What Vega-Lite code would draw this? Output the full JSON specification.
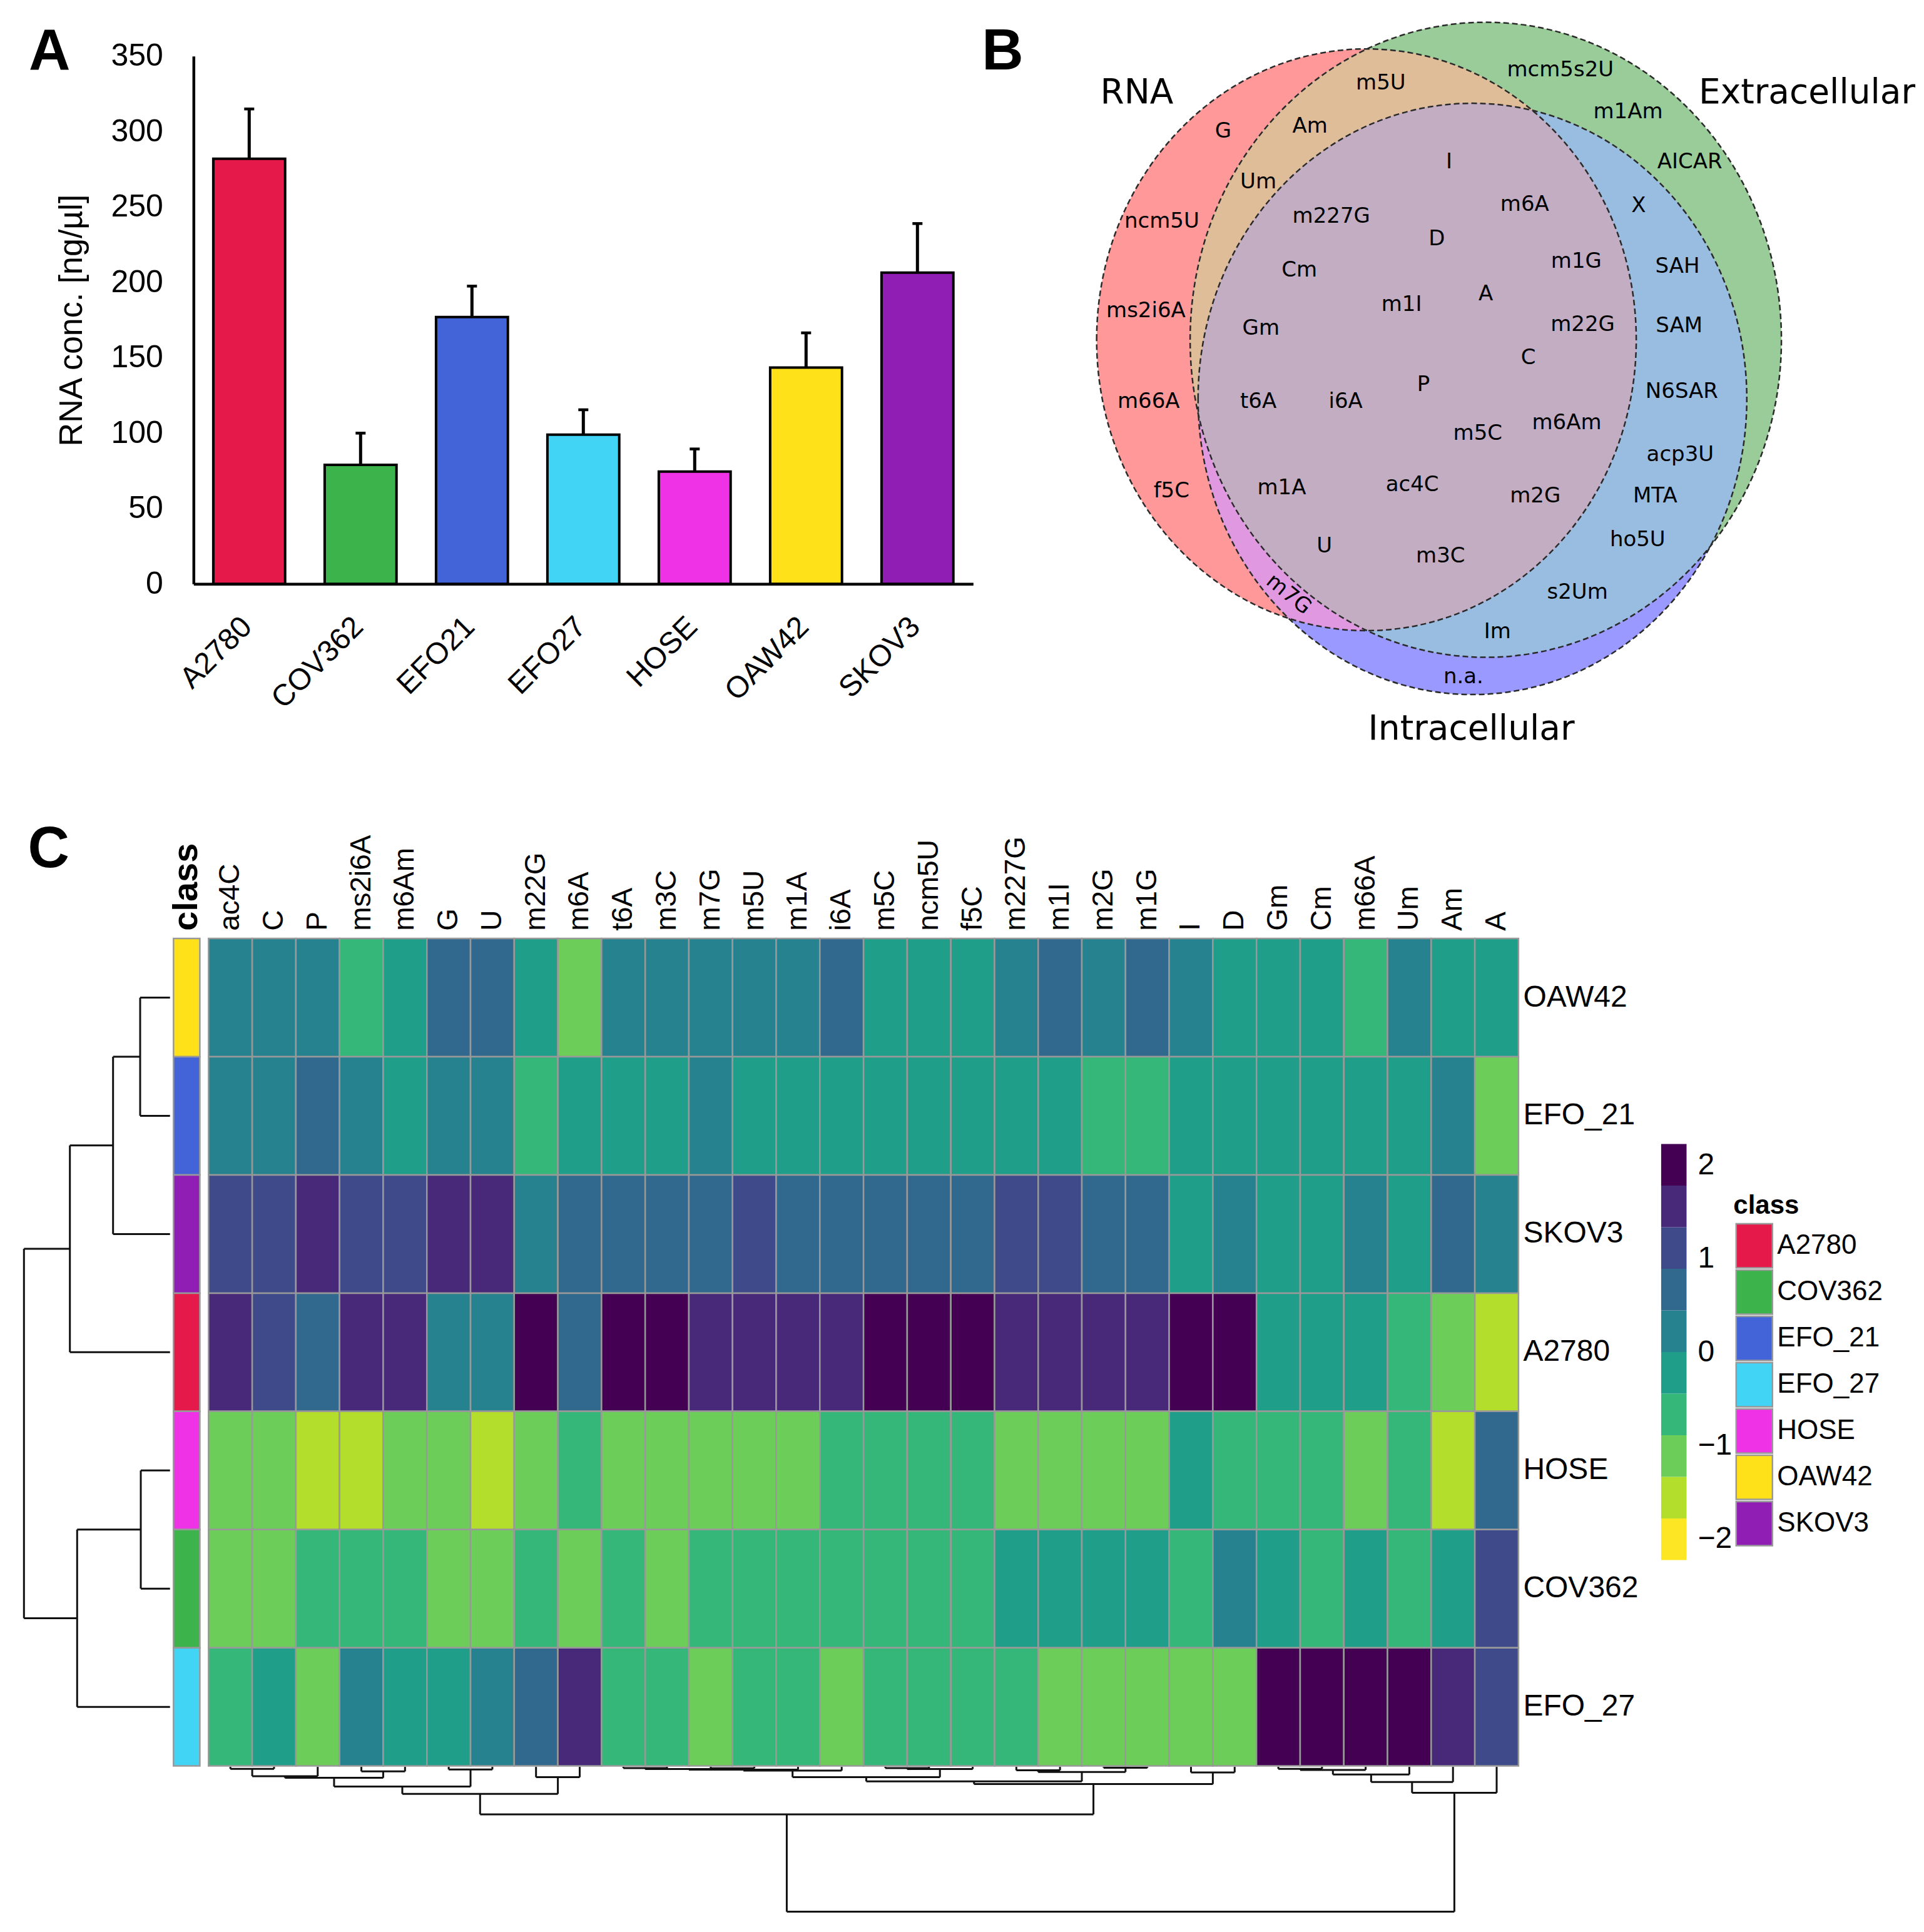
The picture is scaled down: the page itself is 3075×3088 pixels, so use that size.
{
  "$schema": "https://vega.github.io/schema/vega-lite/v6.json",
  "background": "white",
  "padding": {"left": 35.3, "top": 29.8, "right": 0, "bottom": 0},
  "autosize": {"type": "pad"},
  "bounds": "full",
  "spacing": 57.3,
  "config": {
    "view": {"stroke": null},
    "font": "Liberation Sans",
    "axis": {"grid": false, "labelColor": "black", "titleColor": "black", "domainColor": "black", "labelLimit": 1000},
    "legend": {"labelLimit": 1000},
    "title": {"color": "black"},
    "text": {"color": "black"}
  },
  "vconcat": [
    {
      "hconcat": [
        {
          "width": 128.7,
          "height": 843.5,
          "data": {"values": []},
          "mark": "point",
          "title": {"text": "A", "anchor": "start", "frame": "group", "orient": "top", "offset": 0, "dx": 10.7, "dy": 39.8, "baseline": "top", "fontSize": 92, "fontWeight": "bold", "font": "Liberation Sans", "color": "black"}
        },
        {
          "width": 1246,
          "height": 843.5,
          "data": {"values": [
            {"line": "A2780", "conc": 282, "upper": 315},
            {"line": "COV362", "conc": 79, "upper": 100},
            {"line": "EFO21", "conc": 177, "upper": 197.5},
            {"line": "EFO27", "conc": 99, "upper": 115.5},
            {"line": "HOSE", "conc": 74.5, "upper": 89.5},
            {"line": "OAW42", "conc": 143.5, "upper": 166.5},
            {"line": "SKOV3", "conc": 206.5, "upper": 239}
          ]},
          "layer": [
            {
              "mark": {"type": "bar", "stroke": "black", "strokeWidth": 4},
              "encoding": {
                "x": {"field": "line", "type": "nominal", "sort": null,
                  "scale": {"paddingInner": 0.355, "paddingOuter": 0.1775},
                  "axis": {"title": null, "domainWidth": 4.5, "domainColor": "black", "ticks": false, "tickSize": 0, "labelAngle": -45, "labelAlign": "right", "labelBaseline": "middle", "labelPadding": 61, "labelOffset": -3, "labelFontSize": 48, "labelFont": "Liberation Sans"}},
                "y": {"field": "conc", "type": "quantitative",
                  "scale": {"domain": [0, 350], "nice": false},
                  "axis": {"title": "RNA conc. [ng/µl]", "titleFontSize": 52, "titleFontWeight": "normal", "titleFont": "Liberation Sans", "titlePadding": 35, "values": [0, 50, 100, 150, 200, 250, 300, 350], "domainWidth": 4.5, "domainColor": "black", "ticks": false, "tickSize": 0, "labelPadding": 49, "labelFontSize": 50, "labelFont": "Liberation Sans"}},
                "color": {"field": "line", "type": "nominal",
                  "scale": {"domain": ["A2780", "COV362", "EFO21", "EFO27", "HOSE", "OAW42", "SKOV3"], "range": ["#e6194b", "#3cb44b", "#4363d8", "#42d4f4", "#f032e6", "#ffe119", "#911eb4"]},
                  "legend": null}
              }
            },
            {
              "mark": {"type": "rule", "color": "black", "strokeWidth": 5},
              "encoding": {
                "x": {"field": "line", "type": "nominal", "sort": null},
                "y": {"field": "conc", "type": "quantitative"},
                "y2": {"field": "upper"}
              }
            },
            {
              "mark": {"type": "tick", "orient": "horizontal", "color": "black", "size": 16, "thickness": 4.5, "opacity": 1},
              "encoding": {
                "x": {"field": "line", "type": "nominal", "sort": null},
                "y": {"field": "upper", "type": "quantitative"}
              }
            }
          ]
        },
        {
          "width": 1375,
          "height": 1163.5,
          "encoding": {
            "x": {"field": "vx", "type": "quantitative", "scale": {"domain": [1700, 3075], "nice": false, "zero": false}, "axis": null},
            "y": {"field": "vy", "type": "quantitative", "scale": {"domain": [86.5, 1250], "reverse": true, "nice": false, "zero": false}, "axis": null}
          },
          "layer": [
            {"data": {"values": [{"vx": 2300, "vy": 600}]},
             "mark": {"type": "point", "shape": "M-547.6,-60.2A431.2,464.9,0,1,1,314.8,-60.2A431.2,464.9,0,1,1,-547.6,-60.2Z", "size": 4, "filled": true, "color": "#FF9999", "opacity": 1, "strokeWidth": 0}},
            {"data": {"values": [{"vx": 2300, "vy": 600}]},
             "mark": {"type": "point", "shape": "M-398.2,-60.2A472.5,507.5,0,1,1,546.8,-60.2A472.5,507.5,0,1,1,-398.2,-60.2Z", "size": 4, "filled": true, "color": "#99CC99", "opacity": 1, "strokeWidth": 0}},
            {"data": {"values": [{"vx": 2300, "vy": 600}]},
             "mark": {"type": "point", "shape": "M-385.5,34.3A438.5,472.5,0,1,1,491.5,34.3A438.5,472.5,0,1,1,-385.5,34.3Z", "size": 4, "filled": true, "color": "#9999FF", "opacity": 1, "strokeWidth": 0}},
            {"data": {"values": [{"vx": 2300, "vy": 600}]},
             "mark": {"type": "point", "shape": "M-115.2,-525.1A431.2,464.9,0,0,1,-115.2,404.7A472.5,507.5,0,0,1,-115.2,-525.1Z", "size": 4, "filled": true, "color": "#E0BD99", "opacity": 1, "strokeWidth": 0}},
            {"data": {"values": [{"vx": 2300, "vy": 600}]},
             "mark": {"type": "point", "shape": "M-384.9,59.8A438.5,472.5,0,1,1,432.9,270.3A472.5,507.5,0,0,1,-384.9,59.8Z", "size": 4, "filled": true, "color": "#99BDE0", "opacity": 1, "strokeWidth": 0}},
            {"data": {"values": [{"vx": 2300, "vy": 600}]},
             "mark": {"type": "point", "shape": "M148.7,-426.8A431.2,464.9,0,0,1,-240.9,384.9A438.5,472.5,0,0,1,148.7,-426.8Z", "size": 4, "filled": true, "color": "#E099E0", "opacity": 1, "strokeWidth": 0}},
            {"data": {"values": [{"vx": 2300, "vy": 600}]},
             "mark": {"type": "point", "shape": "M148.7,-426.8A431.2,464.9,0,0,1,-115.2,404.7A472.5,507.5,0,0,1,-384.9,59.8A438.5,472.5,0,0,1,148.7,-426.8Z", "size": 4, "filled": true, "color": "#C2ADC2", "opacity": 1, "strokeWidth": 0}},
            {"data": {"values": [{"vx": 2300, "vy": 600}]},
             "mark": {"type": "point", "shape": "M-547.6,-60.2A431.2,464.9,0,1,1,314.8,-60.2A431.2,464.9,0,1,1,-547.6,-60.2Z", "size": 4, "filled": false, "color": "#2a2a2a", "opacity": 1, "strokeWidth": 2.5, "strokeDash": [9, 5]}},
            {"data": {"values": [{"vx": 2300, "vy": 600}]},
             "mark": {"type": "point", "shape": "M-398.2,-60.2A472.5,507.5,0,1,1,546.8,-60.2A472.5,507.5,0,1,1,-398.2,-60.2Z", "size": 4, "filled": false, "color": "#2a2a2a", "opacity": 1, "strokeWidth": 2.5, "strokeDash": [9, 5]}},
            {"data": {"values": [{"vx": 2300, "vy": 600}]},
             "mark": {"type": "point", "shape": "M-385.5,34.3A438.5,472.5,0,1,1,491.5,34.3A438.5,472.5,0,1,1,-385.5,34.3Z", "size": 4, "filled": false, "color": "#2a2a2a", "opacity": 1, "strokeWidth": 2.5, "strokeDash": [9, 5]}},
            {"data": {"values": [
              {"t": "RNA", "vx": 1816.6, "vy": 144.7},
              {"t": "Extracellular", "vx": 2887.7, "vy": 144.7},
              {"t": "Intracellular", "vx": 2351.3, "vy": 1162.2}
             ]},
             "mark": {"type": "text", "font": "DejaVu Sans", "fontSize": 55, "align": "center", "baseline": "middle", "color": "black"},
             "encoding": {"text": {"field": "t"}}},
            {"data": {"values": [
              {"t": "G", "vx": 1954.6, "vy": 206.9},
              {"t": "m5U", "vx": 2206.6, "vy": 129.4},
              {"t": "mcm5s2U", "vx": 2493.5, "vy": 109},
              {"t": "Am", "vx": 2093.3, "vy": 198.4},
              {"t": "m1Am", "vx": 2601.7, "vy": 176.2},
              {"t": "Um", "vx": 2010.8, "vy": 287.8},
              {"t": "AICAR", "vx": 2700.4, "vy": 255.4},
              {"t": "I", "vx": 2315.6, "vy": 255.4},
              {"t": "ncm5U", "vx": 1856.6, "vy": 350.8},
              {"t": "m227G", "vx": 2127.4, "vy": 343.1},
              {"t": "m6A", "vx": 2436.5, "vy": 323.5},
              {"t": "X", "vx": 2618.7, "vy": 326.1},
              {"t": "D", "vx": 2296, "vy": 378.9},
              {"t": "Cm", "vx": 2076.3, "vy": 428.3},
              {"t": "m1G", "vx": 2519.1, "vy": 414.6},
              {"t": "SAH", "vx": 2680.8, "vy": 423.2},
              {"t": "A", "vx": 2374.3, "vy": 466.6},
              {"t": "m1I", "vx": 2239.8, "vy": 483.6},
              {"t": "ms2i6A", "vx": 1831.1, "vy": 493.8},
              {"t": "Gm", "vx": 2015, "vy": 521.9},
              {"t": "m22G", "vx": 2529.3, "vy": 516},
              {"t": "SAM", "vx": 2683.4, "vy": 517.7},
              {"t": "C", "vx": 2442.4, "vy": 568.8},
              {"t": "P", "vx": 2274.7, "vy": 611.3},
              {"t": "t6A", "vx": 2010.8, "vy": 638.6},
              {"t": "i6A", "vx": 2150.4, "vy": 638.6},
              {"t": "m66A", "vx": 1835.4, "vy": 638.6},
              {"t": "N6SAR", "vx": 2687.6, "vy": 623.2},
              {"t": "m6Am", "vx": 2503.7, "vy": 672.6},
              {"t": "m5C", "vx": 2361.5, "vy": 689.7},
              {"t": "acp3U", "vx": 2685.1, "vy": 723.7},
              {"t": "f5C", "vx": 1872, "vy": 781.6},
              {"t": "m1A", "vx": 2048.2, "vy": 776.5},
              {"t": "ac4C", "vx": 2256.8, "vy": 772.2},
              {"t": "m2G", "vx": 2453.5, "vy": 790.1},
              {"t": "MTA", "vx": 2645.1, "vy": 790.1},
              {"t": "ho5U", "vx": 2617, "vy": 860},
              {"t": "U", "vx": 2116.3, "vy": 870.2},
              {"t": "m3C", "vx": 2302, "vy": 885.5},
              {"t": "s2Um", "vx": 2520.8, "vy": 943.4},
              {"t": "Im", "vx": 2393.1, "vy": 1006.4},
              {"t": "n.a.", "vx": 2338.6, "vy": 1078.8}
             ]},
             "mark": {"type": "text", "font": "DejaVu Sans", "fontSize": 34, "align": "center", "baseline": "middle", "color": "black"},
             "encoding": {"text": {"field": "t"}}},
            {"data": {"values": [{"t": "m7G", "vx": 2059.3, "vy": 946.8}]},
             "mark": {"type": "text", "font": "DejaVu Sans", "fontSize": 34, "align": "center", "baseline": "middle", "angle": 39, "color": "black"},
             "encoding": {"text": {"field": "t"}}},
            {"data": {"values": [{"t": "B", "vx": 1569, "vy": 34.3}]},
             "mark": {"type": "text", "font": "Liberation Sans", "fontSize": 92, "fontWeight": "bold", "align": "left", "baseline": "top", "color": "black"},
             "encoding": {"text": {"field": "t"}}}
          ]
        }
      ],
      "spacing": 145,
      "bounds": "flush"
    },
    {
      "hconcat": [
        {
          "width": 241.5,
          "height": 1322.5,
          "title": {"text": "C", "anchor": "start", "frame": "group", "orient": "top", "offset": 0, "dx": 9.1, "dy": -95.2, "baseline": "top", "fontSize": 92, "fontWeight": "bold", "font": "Liberation Sans", "color": "black"},
          "data": {"values": [
            {"node": "a", "yl": 0.5, "yr": 1.5, "hl": 0, "hr": 0, "h": 0.477},
            {"node": "b", "yl": 1.0, "yr": 2.5, "hl": 0.477, "hr": 0, "h": 0.91},
            {"node": "c", "yl": 1.75, "yr": 3.5, "hl": 0.91, "hr": 0, "h": 1.6},
            {"node": "d", "yl": 4.5, "yr": 5.5, "hl": 0, "hr": 0, "h": 0.467},
            {"node": "e", "yl": 5.0, "yr": 6.5, "hl": 0.467, "hr": 0, "h": 1.484},
            {"node": "root", "yl": 2.625, "yr": 5.75, "hl": 1.6, "hr": 1.484, "h": 2.334}
          ]},
          "layer": [
            {"mark": {"type": "rule", "color": "#111111", "strokeWidth": 3},
             "encoding": {
               "x": {"field": "hl", "type": "quantitative", "scale": {"domain": [-0.051, 2.364], "reverse": true, "nice": false, "zero": false}, "axis": null},
               "x2": {"field": "h"},
               "y": {"field": "yl", "type": "quantitative", "scale": {"domain": [0, 7], "reverse": true, "nice": false, "zero": false}, "axis": null}
             }},
            {"mark": {"type": "rule", "color": "#111111", "strokeWidth": 3},
             "encoding": {
               "x": {"field": "hr", "type": "quantitative"},
               "x2": {"field": "h"},
               "y": {"field": "yr", "type": "quantitative"}
             }},
            {"mark": {"type": "rule", "color": "#111111", "strokeWidth": 3},
             "encoding": {
               "x": {"field": "h", "type": "quantitative"},
               "y": {"field": "yl", "type": "quantitative"},
               "y2": {"field": "yr"}
             }}
          ]
        },
        {
          "width": 55.9,
          "height": 1322.5,
          "data": {"values": [
            {"cell": "OAW42", "class": "OAW42", "k": "class"},
            {"cell": "EFO_21", "class": "EFO_21", "k": "class"},
            {"cell": "SKOV3", "class": "SKOV3", "k": "class"},
            {"cell": "A2780", "class": "A2780", "k": "class"},
            {"cell": "HOSE", "class": "HOSE", "k": "class"},
            {"cell": "COV362", "class": "COV362", "k": "class"},
            {"cell": "EFO_27", "class": "EFO_27", "k": "class"}
          ]},
          "mark": {"type": "rect", "stroke": "#999999", "strokeWidth": 2.5},
          "encoding": {
            "x": {"field": "k", "type": "nominal", "scale": {"paddingInner": 0, "paddingOuter": 0.163895, "align": 0},
              "axis": {"orient": "top", "title": null, "labelAngle": -90, "labelAlign": "left", "labelBaseline": "middle", "labelPadding": 12.8, "labelFontSize": 56, "labelFontWeight": "bold", "labelFont": "Liberation Sans", "domain": false, "ticks": false, "tickSize": 0}},
            "y": {"field": "cell", "type": "nominal", "sort": ["OAW42", "EFO_21", "SKOV3", "A2780", "HOSE", "COV362", "EFO_27"], "scale": {"paddingInner": 0, "paddingOuter": 0}, "axis": null},
            "fill": {"field": "class", "type": "nominal",
              "scale": {"domain": ["A2780", "COV362", "EFO_21", "EFO_27", "HOSE", "OAW42", "SKOV3"], "range": ["#e6194b", "#3cb44b", "#4363d8", "#42d4f4", "#f032e6", "#ffe119", "#911eb4"]},
              "legend": {"orient": "none", "legendX": 2735, "legendY": 1817, "direction": "vertical", "title": "class", "titleFontSize": 42, "titleFontWeight": "bold", "titleFont": "Liberation Sans", "titleColor": "black", "titleBaseline": "top", "titlePadding": 8.9, "labelFontSize": 44, "labelFont": "Liberation Sans", "labelColor": "black", "labelOffset": 3, "labelLimit": 1000, "symbolType": "M-0.906,-1.1H0.906V1.1H-0.906Z", "symbolSize": 4096, "symbolStrokeColor": "#999999", "symbolStrokeWidth": 2.5, "symbolOpacity": 1, "rowPadding": -11.5, "padding": 0}}
          }
        },
        {
          "width": 2093.6,
          "height": 1555.5,
          "resolve": {"scale": {"x": "independent", "y": "independent"}, "axis": {"x": "independent", "y": "independent"}},
          "layer": [
            {
              "data": {"values": [
                {"cell":"OAW42","mod":"ac4C","z":0.2},{"cell":"OAW42","mod":"C","z":0.2},{"cell":"OAW42","mod":"P","z":0.2},{"cell":"OAW42","mod":"ms2i6A","z":-0.65},{"cell":"OAW42","mod":"m6Am","z":-0.2},{"cell":"OAW42","mod":"G","z":0.65},{"cell":"OAW42","mod":"U","z":0.65},{"cell":"OAW42","mod":"m22G","z":-0.2},{"cell":"OAW42","mod":"m6A","z":-1.1},{"cell":"OAW42","mod":"t6A","z":0.2},{"cell":"OAW42","mod":"m3C","z":0.2},{"cell":"OAW42","mod":"m7G","z":0.2},{"cell":"OAW42","mod":"m5U","z":0.2},{"cell":"OAW42","mod":"m1A","z":0.2},{"cell":"OAW42","mod":"i6A","z":0.65},{"cell":"OAW42","mod":"m5C","z":-0.2},{"cell":"OAW42","mod":"ncm5U","z":-0.2},{"cell":"OAW42","mod":"f5C","z":-0.2},{"cell":"OAW42","mod":"m227G","z":0.2},{"cell":"OAW42","mod":"m1I","z":0.65},{"cell":"OAW42","mod":"m2G","z":0.2},{"cell":"OAW42","mod":"m1G","z":0.65},{"cell":"OAW42","mod":"I","z":0.2},{"cell":"OAW42","mod":"D","z":-0.2},{"cell":"OAW42","mod":"Gm","z":-0.2},{"cell":"OAW42","mod":"Cm","z":-0.2},{"cell":"OAW42","mod":"m66A","z":-0.65},{"cell":"OAW42","mod":"Um","z":0.2},{"cell":"OAW42","mod":"Am","z":-0.2},{"cell":"OAW42","mod":"A","z":-0.2},
                {"cell":"EFO_21","mod":"ac4C","z":0.2},{"cell":"EFO_21","mod":"C","z":0.2},{"cell":"EFO_21","mod":"P","z":0.65},{"cell":"EFO_21","mod":"ms2i6A","z":0.2},{"cell":"EFO_21","mod":"m6Am","z":-0.2},{"cell":"EFO_21","mod":"G","z":0.2},{"cell":"EFO_21","mod":"U","z":0.2},{"cell":"EFO_21","mod":"m22G","z":-0.65},{"cell":"EFO_21","mod":"m6A","z":-0.2},{"cell":"EFO_21","mod":"t6A","z":-0.2},{"cell":"EFO_21","mod":"m3C","z":-0.2},{"cell":"EFO_21","mod":"m7G","z":0.2},{"cell":"EFO_21","mod":"m5U","z":-0.2},{"cell":"EFO_21","mod":"m1A","z":-0.2},{"cell":"EFO_21","mod":"i6A","z":-0.2},{"cell":"EFO_21","mod":"m5C","z":-0.2},{"cell":"EFO_21","mod":"ncm5U","z":-0.2},{"cell":"EFO_21","mod":"f5C","z":-0.2},{"cell":"EFO_21","mod":"m227G","z":-0.2},{"cell":"EFO_21","mod":"m1I","z":-0.2},{"cell":"EFO_21","mod":"m2G","z":-0.65},{"cell":"EFO_21","mod":"m1G","z":-0.65},{"cell":"EFO_21","mod":"I","z":-0.2},{"cell":"EFO_21","mod":"D","z":-0.2},{"cell":"EFO_21","mod":"Gm","z":-0.2},{"cell":"EFO_21","mod":"Cm","z":-0.2},{"cell":"EFO_21","mod":"m66A","z":-0.2},{"cell":"EFO_21","mod":"Um","z":-0.2},{"cell":"EFO_21","mod":"Am","z":0.2},{"cell":"EFO_21","mod":"A","z":-1.1},
                {"cell":"SKOV3","mod":"ac4C","z":1.1},{"cell":"SKOV3","mod":"C","z":1.1},{"cell":"SKOV3","mod":"P","z":1.55},{"cell":"SKOV3","mod":"ms2i6A","z":1.1},{"cell":"SKOV3","mod":"m6Am","z":1.1},{"cell":"SKOV3","mod":"G","z":1.55},{"cell":"SKOV3","mod":"U","z":1.55},{"cell":"SKOV3","mod":"m22G","z":0.2},{"cell":"SKOV3","mod":"m6A","z":0.65},{"cell":"SKOV3","mod":"t6A","z":0.65},{"cell":"SKOV3","mod":"m3C","z":0.65},{"cell":"SKOV3","mod":"m7G","z":0.65},{"cell":"SKOV3","mod":"m5U","z":1.1},{"cell":"SKOV3","mod":"m1A","z":0.65},{"cell":"SKOV3","mod":"i6A","z":0.65},{"cell":"SKOV3","mod":"m5C","z":0.65},{"cell":"SKOV3","mod":"ncm5U","z":0.65},{"cell":"SKOV3","mod":"f5C","z":0.65},{"cell":"SKOV3","mod":"m227G","z":1.1},{"cell":"SKOV3","mod":"m1I","z":1.1},{"cell":"SKOV3","mod":"m2G","z":0.65},{"cell":"SKOV3","mod":"m1G","z":0.65},{"cell":"SKOV3","mod":"I","z":-0.2},{"cell":"SKOV3","mod":"D","z":0.2},{"cell":"SKOV3","mod":"Gm","z":-0.2},{"cell":"SKOV3","mod":"Cm","z":-0.2},{"cell":"SKOV3","mod":"m66A","z":0.2},{"cell":"SKOV3","mod":"Um","z":-0.2},{"cell":"SKOV3","mod":"Am","z":0.65},{"cell":"SKOV3","mod":"A","z":0.2},
                {"cell":"A2780","mod":"ac4C","z":1.55},{"cell":"A2780","mod":"C","z":1.1},{"cell":"A2780","mod":"P","z":0.65},{"cell":"A2780","mod":"ms2i6A","z":1.55},{"cell":"A2780","mod":"m6Am","z":1.55},{"cell":"A2780","mod":"G","z":0.2},{"cell":"A2780","mod":"U","z":0.2},{"cell":"A2780","mod":"m22G","z":2.0},{"cell":"A2780","mod":"m6A","z":0.65},{"cell":"A2780","mod":"t6A","z":2.0},{"cell":"A2780","mod":"m3C","z":2.0},{"cell":"A2780","mod":"m7G","z":1.55},{"cell":"A2780","mod":"m5U","z":1.55},{"cell":"A2780","mod":"m1A","z":1.55},{"cell":"A2780","mod":"i6A","z":1.55},{"cell":"A2780","mod":"m5C","z":2.0},{"cell":"A2780","mod":"ncm5U","z":2.0},{"cell":"A2780","mod":"f5C","z":2.0},{"cell":"A2780","mod":"m227G","z":1.55},{"cell":"A2780","mod":"m1I","z":1.55},{"cell":"A2780","mod":"m2G","z":1.55},{"cell":"A2780","mod":"m1G","z":1.55},{"cell":"A2780","mod":"I","z":2.0},{"cell":"A2780","mod":"D","z":2.0},{"cell":"A2780","mod":"Gm","z":-0.2},{"cell":"A2780","mod":"Cm","z":-0.2},{"cell":"A2780","mod":"m66A","z":-0.2},{"cell":"A2780","mod":"Um","z":-0.65},{"cell":"A2780","mod":"Am","z":-1.1},{"cell":"A2780","mod":"A","z":-1.55},
                {"cell":"HOSE","mod":"ac4C","z":-1.1},{"cell":"HOSE","mod":"C","z":-1.1},{"cell":"HOSE","mod":"P","z":-1.55},{"cell":"HOSE","mod":"ms2i6A","z":-1.55},{"cell":"HOSE","mod":"m6Am","z":-1.1},{"cell":"HOSE","mod":"G","z":-1.1},{"cell":"HOSE","mod":"U","z":-1.55},{"cell":"HOSE","mod":"m22G","z":-1.1},{"cell":"HOSE","mod":"m6A","z":-0.65},{"cell":"HOSE","mod":"t6A","z":-1.1},{"cell":"HOSE","mod":"m3C","z":-1.1},{"cell":"HOSE","mod":"m7G","z":-1.1},{"cell":"HOSE","mod":"m5U","z":-1.1},{"cell":"HOSE","mod":"m1A","z":-1.1},{"cell":"HOSE","mod":"i6A","z":-0.65},{"cell":"HOSE","mod":"m5C","z":-0.65},{"cell":"HOSE","mod":"ncm5U","z":-0.65},{"cell":"HOSE","mod":"f5C","z":-0.65},{"cell":"HOSE","mod":"m227G","z":-1.1},{"cell":"HOSE","mod":"m1I","z":-1.1},{"cell":"HOSE","mod":"m2G","z":-1.1},{"cell":"HOSE","mod":"m1G","z":-1.1},{"cell":"HOSE","mod":"I","z":-0.2},{"cell":"HOSE","mod":"D","z":-0.65},{"cell":"HOSE","mod":"Gm","z":-0.65},{"cell":"HOSE","mod":"Cm","z":-0.65},{"cell":"HOSE","mod":"m66A","z":-1.1},{"cell":"HOSE","mod":"Um","z":-0.65},{"cell":"HOSE","mod":"Am","z":-1.55},{"cell":"HOSE","mod":"A","z":0.65},
                {"cell":"COV362","mod":"ac4C","z":-1.1},{"cell":"COV362","mod":"C","z":-1.1},{"cell":"COV362","mod":"P","z":-0.65},{"cell":"COV362","mod":"ms2i6A","z":-0.65},{"cell":"COV362","mod":"m6Am","z":-0.65},{"cell":"COV362","mod":"G","z":-1.1},{"cell":"COV362","mod":"U","z":-1.1},{"cell":"COV362","mod":"m22G","z":-0.65},{"cell":"COV362","mod":"m6A","z":-1.1},{"cell":"COV362","mod":"t6A","z":-0.65},{"cell":"COV362","mod":"m3C","z":-1.1},{"cell":"COV362","mod":"m7G","z":-0.65},{"cell":"COV362","mod":"m5U","z":-0.65},{"cell":"COV362","mod":"m1A","z":-0.65},{"cell":"COV362","mod":"i6A","z":-0.65},{"cell":"COV362","mod":"m5C","z":-0.65},{"cell":"COV362","mod":"ncm5U","z":-0.65},{"cell":"COV362","mod":"f5C","z":-0.65},{"cell":"COV362","mod":"m227G","z":-0.2},{"cell":"COV362","mod":"m1I","z":-0.2},{"cell":"COV362","mod":"m2G","z":-0.2},{"cell":"COV362","mod":"m1G","z":-0.2},{"cell":"COV362","mod":"I","z":-0.65},{"cell":"COV362","mod":"D","z":0.2},{"cell":"COV362","mod":"Gm","z":-0.2},{"cell":"COV362","mod":"Cm","z":-0.65},{"cell":"COV362","mod":"m66A","z":-0.2},{"cell":"COV362","mod":"Um","z":-0.65},{"cell":"COV362","mod":"Am","z":-0.2},{"cell":"COV362","mod":"A","z":1.1},
                {"cell":"EFO_27","mod":"ac4C","z":-0.65},{"cell":"EFO_27","mod":"C","z":-0.2},{"cell":"EFO_27","mod":"P","z":-1.1},{"cell":"EFO_27","mod":"ms2i6A","z":0.2},{"cell":"EFO_27","mod":"m6Am","z":-0.2},{"cell":"EFO_27","mod":"G","z":-0.2},{"cell":"EFO_27","mod":"U","z":0.2},{"cell":"EFO_27","mod":"m22G","z":0.65},{"cell":"EFO_27","mod":"m6A","z":1.55},{"cell":"EFO_27","mod":"t6A","z":-0.65},{"cell":"EFO_27","mod":"m3C","z":-0.65},{"cell":"EFO_27","mod":"m7G","z":-1.1},{"cell":"EFO_27","mod":"m5U","z":-0.65},{"cell":"EFO_27","mod":"m1A","z":-0.65},{"cell":"EFO_27","mod":"i6A","z":-1.1},{"cell":"EFO_27","mod":"m5C","z":-0.65},{"cell":"EFO_27","mod":"ncm5U","z":-0.65},{"cell":"EFO_27","mod":"f5C","z":-0.65},{"cell":"EFO_27","mod":"m227G","z":-0.65},{"cell":"EFO_27","mod":"m1I","z":-1.1},{"cell":"EFO_27","mod":"m2G","z":-1.1},{"cell":"EFO_27","mod":"m1G","z":-1.1},{"cell":"EFO_27","mod":"I","z":-1.1},{"cell":"EFO_27","mod":"D","z":-1.1},{"cell":"EFO_27","mod":"Gm","z":2.0},{"cell":"EFO_27","mod":"Cm","z":2.0},{"cell":"EFO_27","mod":"m66A","z":2.0},{"cell":"EFO_27","mod":"Um","z":2.0},{"cell":"EFO_27","mod":"Am","z":1.55},{"cell":"EFO_27","mod":"A","z":1.1}
              ]},
              "mark": {"type": "rect", "stroke": "#999999", "strokeWidth": 2.5},
              "encoding": {
                "x": {"field": "mod", "type": "nominal",
                  "sort": ["ac4C","C","P","ms2i6A","m6Am","G","U","m22G","m6A","t6A","m3C","m7G","m5U","m1A","i6A","m5C","ncm5U","f5C","m227G","m1I","m2G","m1G","I","D","Gm","Cm","m66A","Um","Am","A"],
                  "scale": {"paddingInner": 0, "paddingOuter": 0},
                  "axis": {"orient": "top", "title": null, "labelAngle": -90, "labelAlign": "left", "labelBaseline": "middle", "labelPadding": 12.8, "labelFontSize": 46, "labelFont": "Liberation Sans", "domain": false, "ticks": false, "tickSize": 0}},
                "y": {"field": "cell", "type": "nominal",
                  "sort": ["OAW42", "EFO_21", "SKOV3", "A2780", "HOSE", "COV362", "EFO_27"],
                  "scale": {"paddingInner": 0, "paddingOuter": 0.6166, "align": 0},
                  "axis": {"orient": "right", "title": null, "labelPadding": 7, "labelFontSize": 48, "labelFont": "Liberation Sans", "labelBaseline": "middle", "domain": false, "ticks": false, "tickSize": 0}},
                "color": {"field": "z", "type": "quantitative",
                  "scale": {"type": "quantize", "domain": [-2.23, 2.23], "nice": false, "range": ["#FDE725", "#B4DE2C", "#6DCD59", "#35B779", "#1F9E89", "#26828E", "#31688E", "#3E4A89", "#482878", "#440154"]},
                  "legend": null}
              }
            },
            {
              "data": {"values": [
                {"node":"n1","xl":0.5,"xr":1.5,"hl":0,"hr":0,"h":0.032},
                {"node":"n2","xl":1.0,"xr":2.5,"hl":0.032,"hr":0,"h":0.148},
                {"node":"n3","xl":3.5,"xr":4.5,"hl":0,"hr":0,"h":0.072},
                {"node":"n4","xl":1.75,"xr":4.0,"hl":0.148,"hr":0.072,"h":0.175},
                {"node":"n5","xl":5.5,"xr":6.5,"hl":0,"hr":0,"h":0.042},
                {"node":"n6","xl":2.875,"xr":6.0,"hl":0.175,"hr":0.042,"h":0.315},
                {"node":"n7","xl":7.5,"xr":8.5,"hl":0,"hr":0,"h":0.165},
                {"node":"n8","xl":4.4375,"xr":8.0,"hl":0.315,"hr":0.165,"h":0.432},
                {"node":"n9","xl":9.5,"xr":10.5,"hl":0,"hr":0,"h":0.02},
                {"node":"n10","xl":11.5,"xr":12.5,"hl":0,"hr":0,"h":0.022},
                {"node":"n11","xl":10.0,"xr":12.0,"hl":0.02,"hr":0.022,"h":0.035},
                {"node":"n12","xl":11.0,"xr":13.5,"hl":0.035,"hr":0,"h":0.045},
                {"node":"n13","xl":12.25,"xr":14.5,"hl":0.045,"hr":0,"h":0.06},
                {"node":"n14","xl":15.5,"xr":16.5,"hl":0,"hr":0,"h":0.02},
                {"node":"n15","xl":16.0,"xr":17.5,"hl":0.02,"hr":0,"h":0.035},
                {"node":"n16","xl":13.375,"xr":16.75,"hl":0.06,"hr":0.035,"h":0.165},
                {"node":"n17","xl":18.5,"xr":19.5,"hl":0,"hr":0,"h":0.055},
                {"node":"n18","xl":20.5,"xr":21.5,"hl":0,"hr":0,"h":0.015},
                {"node":"n19","xl":19.0,"xr":21.0,"hl":0.055,"hr":0.015,"h":0.082},
                {"node":"n20","xl":15.0625,"xr":20.0,"hl":0.165,"hr":0.082,"h":0.232},
                {"node":"n21","xl":22.5,"xr":23.5,"hl":0,"hr":0,"h":0.088},
                {"node":"n22","xl":17.53125,"xr":23.0,"hl":0.232,"hr":0.088,"h":0.275},
                {"node":"n23","xl":6.21875,"xr":20.265625,"hl":0.432,"hr":0.275,"h":0.758},
                {"node":"n24","xl":24.5,"xr":25.5,"hl":0,"hr":0,"h":0.032},
                {"node":"n25","xl":25.0,"xr":26.5,"hl":0.032,"hr":0,"h":0.048},
                {"node":"n26","xl":25.75,"xr":27.5,"hl":0.048,"hr":0,"h":0.122},
                {"node":"n27","xl":26.625,"xr":28.5,"hl":0.122,"hr":0,"h":0.242},
                {"node":"n28","xl":27.5625,"xr":29.5,"hl":0.242,"hr":0,"h":0.415},
                {"node":"root","xl":13.2421875,"xr":28.53125,"hl":0.758,"hr":0.415,"h":2.315}
              ]},
              "layer": [
                {"mark": {"type": "rule", "color": "#111111", "strokeWidth": 3},
                 "encoding": {
                   "x": {"field": "xl", "type": "quantitative", "scale": {"domain": [0, 30], "nice": false, "zero": false}, "axis": null},
                   "y": {"field": "hl", "type": "quantitative", "scale": {"domain": [-13.24, 2.315], "reverse": true, "nice": false, "zero": false}, "axis": null},
                   "y2": {"field": "h"}
                 }},
                {"mark": {"type": "rule", "color": "#111111", "strokeWidth": 3},
                 "encoding": {
                   "x": {"field": "xr", "type": "quantitative"},
                   "y": {"field": "hr", "type": "quantitative"},
                   "y2": {"field": "h"}
                 }},
                {"mark": {"type": "rule", "color": "#111111", "strokeWidth": 3},
                 "encoding": {
                   "x": {"field": "xl", "type": "quantitative"},
                   "x2": {"field": "xr"},
                   "y": {"field": "h", "type": "quantitative"}
                 }}
              ]
            }
          ]
        },
        {
          "width": 268.2,
          "height": 1322.5,
          "data": {"values": [
            {"lo": -2.23, "hi": -1.784, "mid": -2.007},
            {"lo": -1.784, "hi": -1.338, "mid": -1.561},
            {"lo": -1.338, "hi": -0.892, "mid": -1.115},
            {"lo": -0.892, "hi": -0.446, "mid": -0.669},
            {"lo": -0.446, "hi": 0, "mid": -0.223},
            {"lo": 0, "hi": 0.446, "mid": 0.223},
            {"lo": 0.446, "hi": 0.892, "mid": 0.669},
            {"lo": 0.892, "hi": 1.338, "mid": 1.115},
            {"lo": 1.338, "hi": 1.784, "mid": 1.561},
            {"lo": 1.784, "hi": 2.23, "mid": 2.007}
          ]},
          "mark": {"type": "rect"},
          "encoding": {
            "x": {"datum": 0, "type": "quantitative", "scale": {"domain": [-5.606, 1], "nice": false, "zero": false}, "axis": null},
            "x2": {"datum": 1},
            "y": {"field": "lo", "type": "quantitative",
              "scale": {"domain": [-4.437, 4.433], "nice": false, "zero": false},
              "axis": {"orient": "right", "title": null, "values": [-2, -1, 0, 1, 2], "format": "d", "domain": false, "ticks": false, "tickSize": 0, "labelPadding": 17.5, "labelFontSize": 48, "labelFont": "Liberation Sans", "labelBaseline": "middle", "grid": false}},
            "y2": {"field": "hi"},
            "color": {"field": "mid", "type": "quantitative",
              "scale": {"type": "quantize", "domain": [-2.23, 2.23], "nice": false, "range": ["#FDE725", "#B4DE2C", "#6DCD59", "#35B779", "#1F9E89", "#26828E", "#31688E", "#3E4A89", "#482878", "#440154"]},
              "legend": null}
          }
        }
      ],
      "spacing": 0,
      "bounds": "flush"
    }
  ]
}
